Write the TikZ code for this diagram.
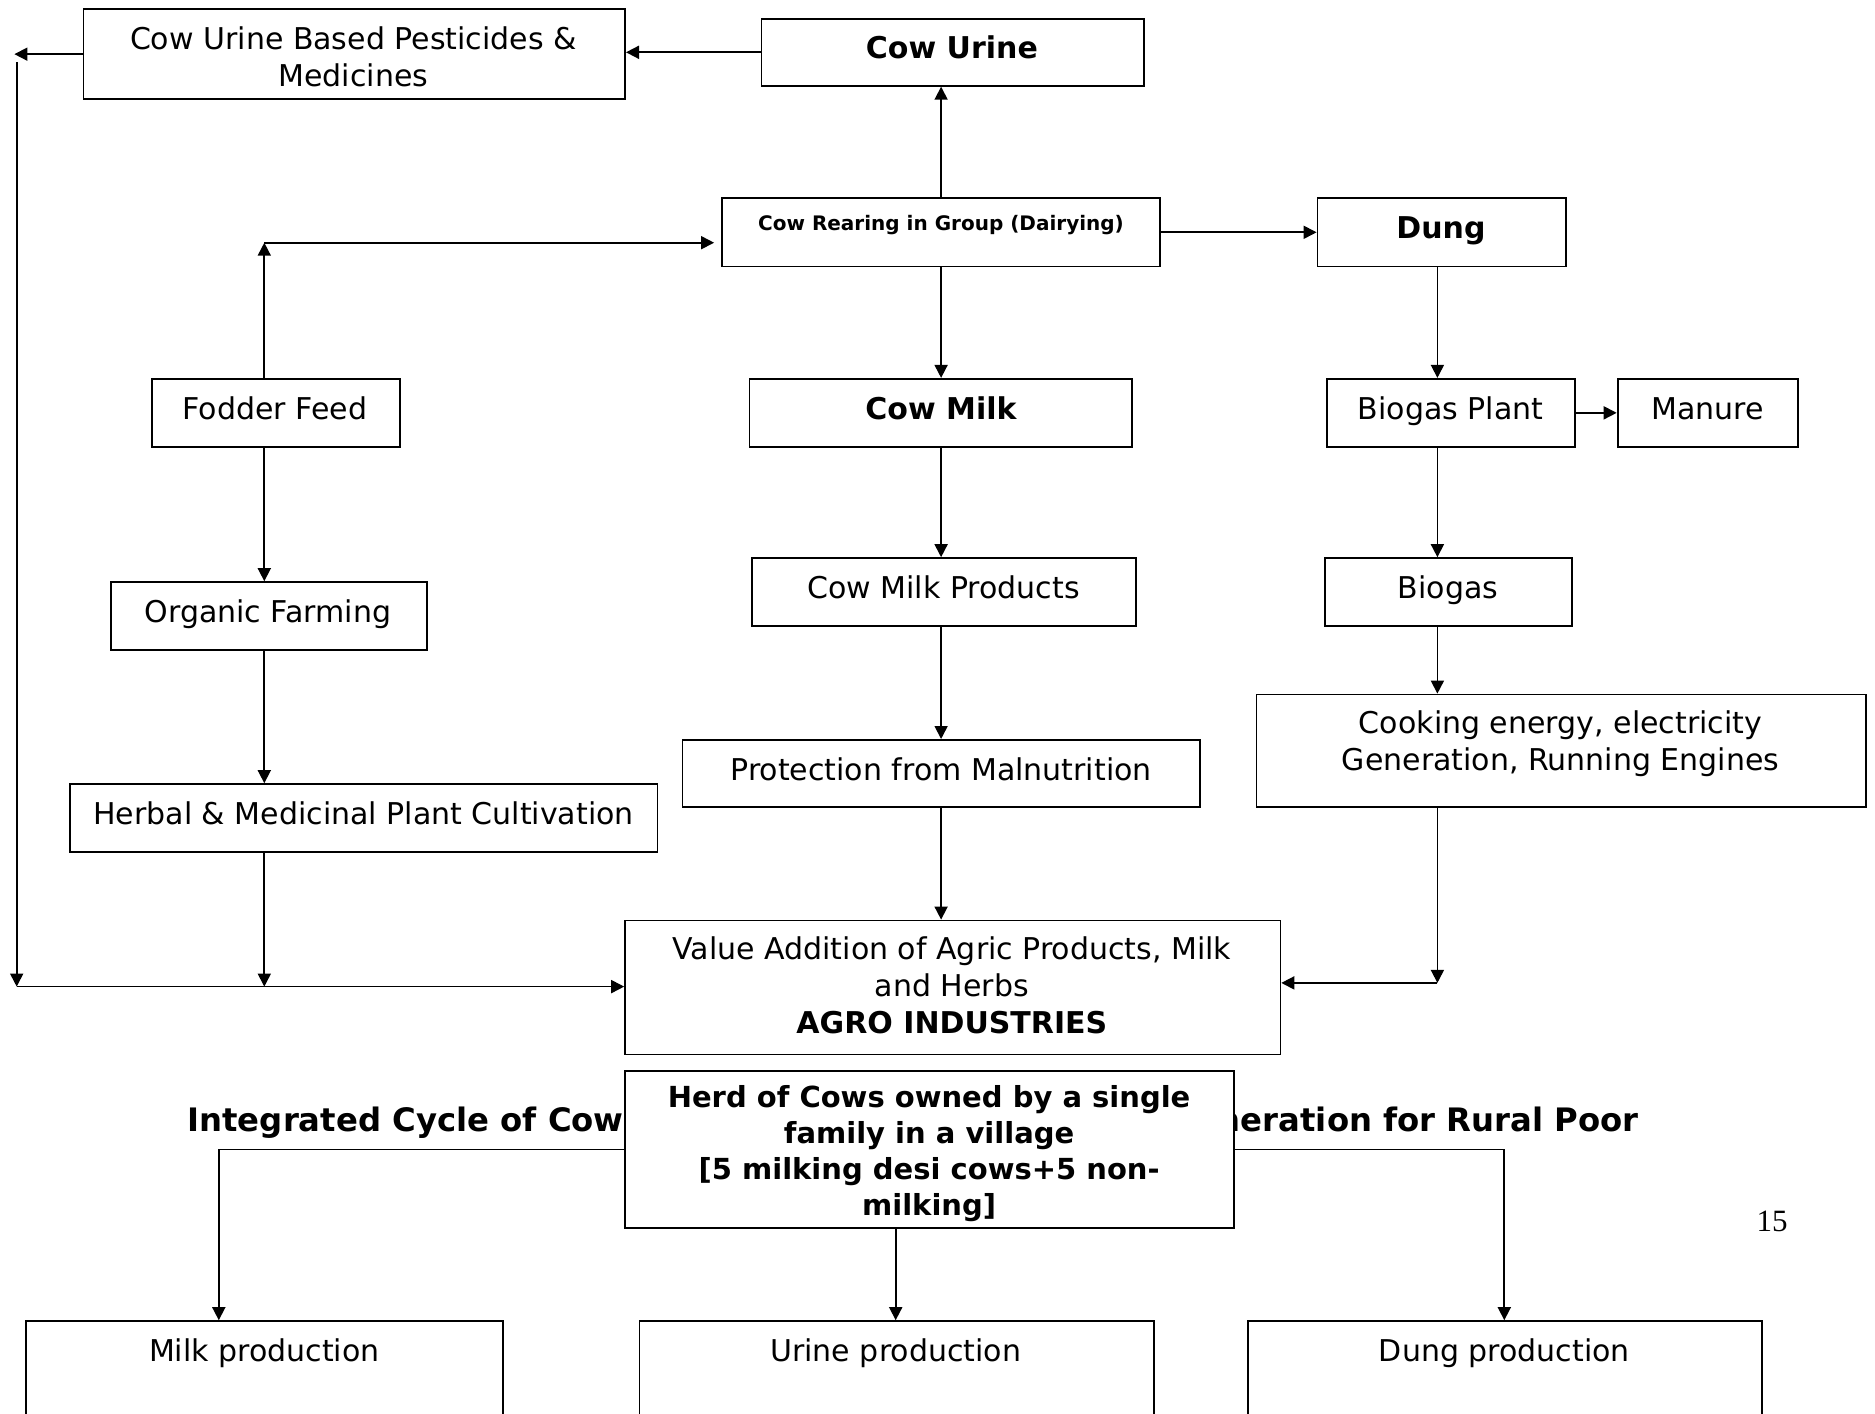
\documentclass[tikz,border=0pt]{standalone}
\usepackage{fontspec}
\setmainfont{DejaVu Sans}
\newfontfamily\pgnumfont{Liberation Serif}
\usetikzlibrary{arrows.meta,calc}
\begin{document}
\begin{tikzpicture}[x=1pt,y=-1pt,
  box/.style={draw, line width=1.8pt, fill=white, inner sep=0pt, anchor=north west},
  lbl/.style={inner sep=0pt, font=\fontsize{30}{37}\selectfont, text height=22pt, text depth=6pt},
  mlbl/.style={inner sep=0pt, font=\fontsize{30}{37}\selectfont, align=center},
  arr/.style={line width=1.7pt, -{Triangle[length=13pt,width=13pt]}},
  ttl/.style={inner sep=0pt, font=\bfseries\fontsize{32.3}{38}\selectfont}]
\clip (0,0) rectangle (1875,1414);
\fill[white] (0,0) rectangle (1875,1414);

% ---- boxes ----
\node[box, minimum width=541.7pt, minimum height=89.7pt] (pest) at (82.5,8.4) {};
\node[box, minimum width=382.7pt, minimum height=67pt] (cu) at (760.5,17.9) {};
\node[box, minimum width=437.6pt, minimum height=68.2pt] (cr) at (721.1,197.3) {};
\node[box, minimum width=248.7pt, minimum height=68.2pt] (dung) at (1316.6,197.3) {};
\node[box, minimum width=248.7pt, minimum height=68.1pt] (fod) at (150.7,377.9) {};
\node[box, minimum width=382.6pt, minimum height=68.1pt] (cm) at (748.6,377.9) {};
\node[box, minimum width=247.6pt, minimum height=68.1pt] (bp) at (1326.1,377.9) {};
\node[box, minimum width=180.6pt, minimum height=68.1pt] (man) at (1616.7,377.9) {};
\node[box, minimum width=315.7pt, minimum height=68.1pt] (org) at (110.0,581.2) {};
\node[box, minimum width=383.8pt, minimum height=68.2pt] (cmp) at (751.0,557.2) {};
\node[box, minimum width=247.6pt, minimum height=68.2pt] (bio) at (1323.7,557.2) {};
\node[box, minimum width=587.1pt, minimum height=68.2pt] (herb) at (69.4,783.2) {};
\node[box, minimum width=517.8pt, minimum height=67pt] (prot) at (681.6,739.0) {};
\node[box, minimum width=609.8pt, minimum height=112.4pt] (cook) at (1255.6,693.6) {};
\node[box, minimum width=655.3pt, minimum height=133.9pt] (va) at (624.2,919.6) {};
\node[box, minimum width=477.1pt, minimum height=160pt] (milkp) at (25.1,1320.2) {};
\node[box, minimum width=514.2pt, minimum height=160pt] (urp) at (638.6,1320.2) {};
\node[box, minimum width=514.2pt, minimum height=160pt] (dungp) at (1247.2,1320.2) {};

% ---- texts ----
\node[mlbl] (pest-t) at (353.4,56.4) {Cow Urine Based Pesticides \&\\Medicines};
\node[lbl, font=\bfseries\fontsize{30}{37}\selectfont] (cu-t) at (951.9,50.1) {Cow Urine};
\node[lbl, font=\bfseries\fontsize{20}{24}\selectfont, text height=15pt, text depth=4pt] (cr-t) at (941,225.4) {Cow Rearing in Group (Dairying)};
\node[lbl, font=\bfseries\fontsize{30}{37}\selectfont] (dung-t) at (1441,230.7) {Dung};
\node[lbl] (fod-t) at (275,411.3) {Fodder Feed};
\node[lbl, font=\bfseries\fontsize{30}{37}\selectfont] (cm-t) at (941,411.3) {Cow Milk};
\node[lbl] (bp-t) at (1450.5,411.3) {Biogas Plant};
\node[lbl] (man-t) at (1707.6,411.3) {Manure};
\node[lbl] (org-t) at (267.9,614.6) {Organic Farming};
\node[lbl] (cmp-t) at (943.5,590.6) {Cow Milk Products};
\node[lbl] (bio-t) at (1448.1,590.6) {Biogas};
\node[lbl] (herb-t) at (363.5,816.6) {Herbal \& Medicinal Plant Cultivation};
\node[lbl] (prot-t) at (941.1,772.4) {Protection from Malnutrition};
\node[mlbl] (cook-t) at (1560.5,743.6) {Cooking energy, electricity\\Generation, Running Engines};
\node[mlbl] (va-t) at (951.9,985.2) {Value Addition of Agric Products, Milk\\and Herbs\\\textbf{AGRO INDUSTRIES}};
\node[lbl] (milkp-t) at (264.3,1353) {Milk production};
\node[lbl] (urp-t) at (895.7,1353) {Urine production};
\node[lbl] (dungp-t) at (1504.3,1353) {Dung production};

% ---- title (partly hidden by the herd box) ----
\node[ttl, anchor=base east] (ttl-l) at (624,1131) {Integrated Cycle of Cow};
\node[ttl, anchor=base east] (ttl-r) at (1639,1131) {neration for Rural Poor};
\node[box, minimum width=608.7pt, minimum height=156.7pt] (herd) at (624.2,1070.2) {};
\node[mlbl, font=\bfseries\fontsize{29}{36}\selectfont] (herd-t) at (929.1,1153.9) {Herd of Cows owned by a single\\family in a village\\{}[5 milking desi cows+5 non-\\milking]};

\node[inner sep=0pt, font=\pgnumfont\fontsize{31}{36}\selectfont] (pg) at (1772,1221) {15};

% ---- helper coordinates ----
\coordinate (Ltip) at (14.4,0);
\coordinate (Ltop) at (16.7,62.2);
\coordinate (Lbot) at (16.7,986.6);
\coordinate (Fx) at (264.3,242.7);
\coordinate (Mx) at (941.1,0);
\coordinate (Dx) at (1437.4,982.9);
\coordinate (Hl) at (218.8,0);
\coordinate (Ux) at (895.7,0);
\coordinate (Hr) at (1504.3,0);

% ---- connectors ----
\draw[arr] (cu.west) -- (cu.west -| pest.east);
\draw[arr] (pest.west) -- (pest.west -| Ltip);
\draw[arr] (Ltop) -- (Lbot);
\draw[arr] (Lbot) -- (Lbot -| va.west);

\draw[arr] (fod.north -| Fx) -- (Fx);
\draw[arr, shorten >=7pt] (Fx) -- (Fx -| cr.west);
\draw[arr] (fod.south -| Fx) -- (org.north -| Fx);
\draw[arr] (org.south -| Fx) -- (herb.north -| Fx);
\draw[arr] (herb.south -| Fx) -- (Lbot -| Fx);

\draw[arr] (cr.north -| Mx) -- (cu.south -| Mx);
\draw[arr] (cr.south -| Mx) -- (cm.north -| Mx);
\draw[arr] (cm.south -| Mx) -- (cmp.north -| Mx);
\draw[arr] (cmp.south -| Mx) -- (prot.north -| Mx);
\draw[arr] (prot.south -| Mx) -- (va.north -| Mx);

\draw[arr] (cr.east) -- (cr.east -| dung.west);
\draw[arr] (dung.south -| Dx) -- (bp.north -| Dx);
\draw[arr] (bp.east) -- (man.west);
\draw[arr] (bp.south -| Dx) -- (bio.north -| Dx);
\draw[arr] (bio.south -| Dx) -- (cook.north -| Dx);
\draw[arr] (cook.south -| Dx) -- (Dx);
\draw[arr] (Dx) -- (Dx -| va.east);

\draw[arr] (herd.west) -| (Hl |- milkp.north);
\draw[arr] (herd.south -| Ux) -- (urp.north -| Ux);
\draw[arr] (herd.east) -| (Hr |- dungp.north);
\end{tikzpicture}
\end{document}
